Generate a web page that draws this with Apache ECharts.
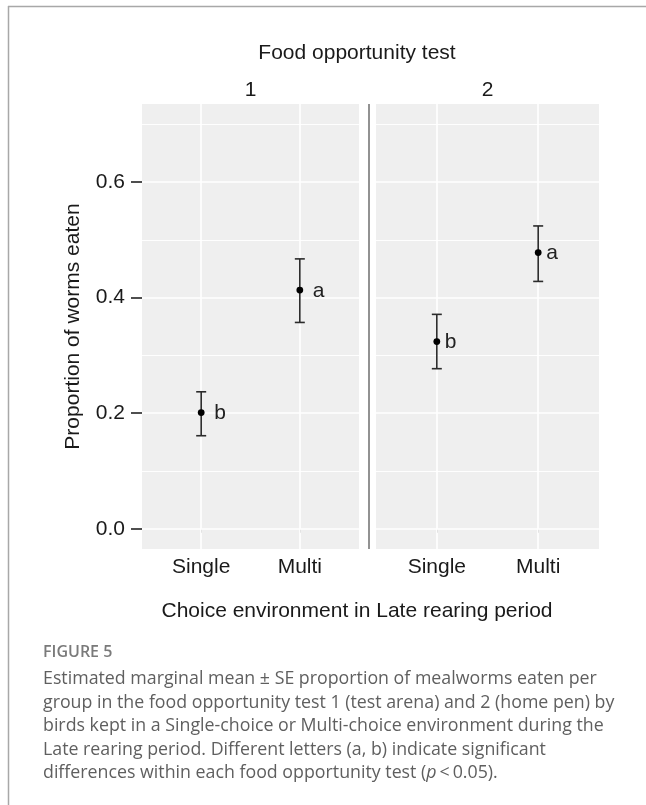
<!DOCTYPE html>
<html>
<head>
<meta charset="utf-8">
<script src="https://cdn.jsdelivr.net/npm/echarts@6/dist/echarts.min.js"></script>
<style>
html,body{margin:0;padding:0;background:#fff;}
#c{width:646px;height:805px;}
</style>
</head>
<body>
<div id="c"></div>
<script>
// ---- data ----
const xCats = ['Single', 'Multi'];
const panelNames = ['1', '2'];
const mean1 = [0.201, 0.413];
const lower1 = [0.161, 0.357];
const upper1 = [0.237, 0.467];
const letters1 = ['b', 'a'];
const mean2 = [0.324, 0.478];
const lower2 = [0.277, 0.428];
const upper2 = [0.371, 0.524];
const letters2 = ['b', 'a'];
const yMajor = [0, 0.2, 0.4, 0.6];
const yMinor = [0.1, 0.3, 0.5, 0.7];
const xPos = [1, 2];
const facetTitle = 'Food opportunity test';
const yTitle = 'Proportion of worms eaten';
const xTitle = 'Choice environment in Late rearing period';
const figLabel = 'FIGURE 5';
const captionLines = [
  'Estimated marginal mean \u00B1 SE proportion of mealworms eaten per',
  'group in the food opportunity test 1 (test arena) and 2 (home pen) by',
  'birds kept in a Single-choice or Multi-choice environment during the',
  'Late rearing period. Different letters (a, b) indicate significant',
  'differences within each food opportunity test ({i|p}\u2009<\u20090.05).'
];

// ---- layout ----
const FONT = 'Liberation Sans, Arial, sans-serif';
const CAPFONT = 'Open Sans, Noto Sans, sans-serif';
const TOP = 104, H = 445;
const grids = [
  {left: 142, top: TOP, width: 217, height: H},
  {left: 376, top: TOP, width: 223, height: H}
];
const letterOffset = [13, 8];
const TITLE_CX = 357;

const chart = echarts.init(document.getElementById('c'), null, {renderer: 'canvas'});

function buildData(m, lo, up, le) {
  return m.map((v, i) => [xPos[i], v, lo[i], up[i], le[i]]);
}

function errRender(panel) {
  return function (params, api) {
    const x = api.value(0);
    const p = api.coord([x, api.value(1)]);
    const lo = api.coord([x, api.value(2)]);
    const hi = api.coord([x, api.value(3)]);
    const lineStyle = {stroke: '#2b2b2b', lineWidth: 1.6};
    return {
      type: 'group',
      children: [
        {type: 'line', shape: {x1: p[0], y1: lo[1], x2: p[0], y2: hi[1]}, style: lineStyle},
        {type: 'line', shape: {x1: p[0] - 5, y1: lo[1], x2: p[0] + 5, y2: lo[1]}, style: lineStyle},
        {type: 'line', shape: {x1: p[0] - 5, y1: hi[1], x2: p[0] + 5, y2: hi[1]}, style: lineStyle},
        {type: 'circle', shape: {cx: p[0], cy: p[1], r: 3.4}, style: {fill: '#000'}},
        {type: 'text', x: p[0] + letterOffset[panel], y: p[1] + 1,
          style: {text: api.value(4), fill: '#222', font: '21px ' + FONT, align: 'left', verticalAlign: 'middle'}}
      ]
    };
  };
}

function gridLines(idx) {
  const data = [];
  yMajor.forEach(v => data.push({yAxis: v, lineStyle: {width: 1.6}}));
  yMinor.forEach(v => data.push({yAxis: v, lineStyle: {width: 0.9}}));
  xPos.forEach(v => data.push({xAxis: v, lineStyle: {width: 1.6}}));
  return {
    type: 'line', xAxisIndex: idx, yAxisIndex: idx, data: [], z: 1, silent: true,
    markLine: {
      silent: true, symbol: ['none', 'none'], label: {show: false},
      lineStyle: {color: '#ffffff', type: 'solid'},
      emphasis: {disabled: true},
      animation: false,
      data: data
    }
  };
}

const xAxes = grids.map((g, i) => ({
  type: 'value', gridIndex: i, min: 0.4, max: 2.6,
  axisLine: {show: false},
  splitLine: {show: false},
  axisTick: {show: true, customValues: xPos, length: 4, lineStyle: {color: '#777', width: 1}},
  axisLabel: {customValues: xPos, formatter: v => xCats[Math.round(v) - 1],
    color: '#1a1a1a', fontFamily: FONT, fontSize: 21, margin: 8}
}));

const yAxes = grids.map((g, i) => ({
  type: 'value', gridIndex: i, min: -0.035, max: 0.735,
  axisLine: {show: false},
  splitLine: {show: false},
  axisTick: {show: i === 0, customValues: yMajor, length: 11, lineStyle: {color: '#222', width: 1.6}},
  axisLabel: {show: i === 0, customValues: yMajor, formatter: v => v.toFixed(1),
    color: '#1a1a1a', fontFamily: FONT, fontSize: 21, margin: 17},
  name: i === 0 ? yTitle : '',
  nameLocation: 'middle', nameGap: 58, nameRotate: 90,
  nameTextStyle: {color: '#1a1a1a', fontFamily: FONT, fontSize: 21}
}));

const graphics = [
  // figure frame
  {type: 'line', shape: {x1: 8, y1: 6.5, x2: 646, y2: 6.5}, style: {stroke: '#a8a8a8', lineWidth: 1.5}, silent: true},
  {type: 'line', shape: {x1: 8.5, y1: 6, x2: 8.5, y2: 805}, style: {stroke: '#a8a8a8', lineWidth: 1.5}, silent: true},
  // facet title and strips
  {type: 'text', x: TITLE_CX, y: 53,
    style: {text: facetTitle, font: '21px ' + FONT, fill: '#1a1a1a', align: 'center', verticalAlign: 'middle'}},
  {type: 'text', x: grids[0].left + grids[0].width / 2, y: 90,
    style: {text: panelNames[0], font: '21px ' + FONT, fill: '#1a1a1a', align: 'center', verticalAlign: 'middle'}},
  {type: 'text', x: grids[1].left + grids[1].width / 2, y: 90,
    style: {text: panelNames[1], font: '21px ' + FONT, fill: '#1a1a1a', align: 'center', verticalAlign: 'middle'}},
  // separator between panels
  {type: 'line', shape: {x1: 369, y1: TOP, x2: 369, y2: TOP + H}, style: {stroke: '#777', lineWidth: 1.6}, silent: true},
  // x title
  {type: 'text', x: TITLE_CX, y: 611,
    style: {text: xTitle, font: '21px ' + FONT, fill: '#1a1a1a', align: 'center', verticalAlign: 'middle'}},
  // caption
  {type: 'text', x: 43, y: 652,
    style: {text: figLabel, font: '600 16px ' + CAPFONT, fill: '#7a7a7a', align: 'left', verticalAlign: 'middle'}}
];
captionLines.forEach((t, i) => {
  graphics.push({type: 'text', x: 43, y: 679 + i * 23.5,
    style: {text: t, font: '17.8px ' + CAPFONT, fill: '#5f5f5f', align: 'left', verticalAlign: 'middle',
      rich: {i: {fontStyle: 'italic', fontFamily: CAPFONT, fontSize: 17.8, fill: '#5f5f5f', color: '#5f5f5f'}}}});
});

const option = {
  animation: false,
  backgroundColor: '#ffffff',
  grid: grids.map(g => Object.assign({show: true, backgroundColor: '#efefef', borderWidth: 0, containLabel: false}, g)),
  xAxis: xAxes,
  yAxis: yAxes,
  graphic: graphics,
  series: [
    gridLines(0),
    gridLines(1),
    {type: 'custom', xAxisIndex: 0, yAxisIndex: 0, z: 5, renderItem: errRender(0),
      encode: {x: 0, y: [1, 2, 3]}, data: buildData(mean1, lower1, upper1, letters1)},
    {type: 'custom', xAxisIndex: 1, yAxisIndex: 1, z: 5, renderItem: errRender(1),
      encode: {x: 0, y: [1, 2, 3]}, data: buildData(mean2, lower2, upper2, letters2)}
  ]
};
chart.setOption(option);
</script>
</body>
</html>
